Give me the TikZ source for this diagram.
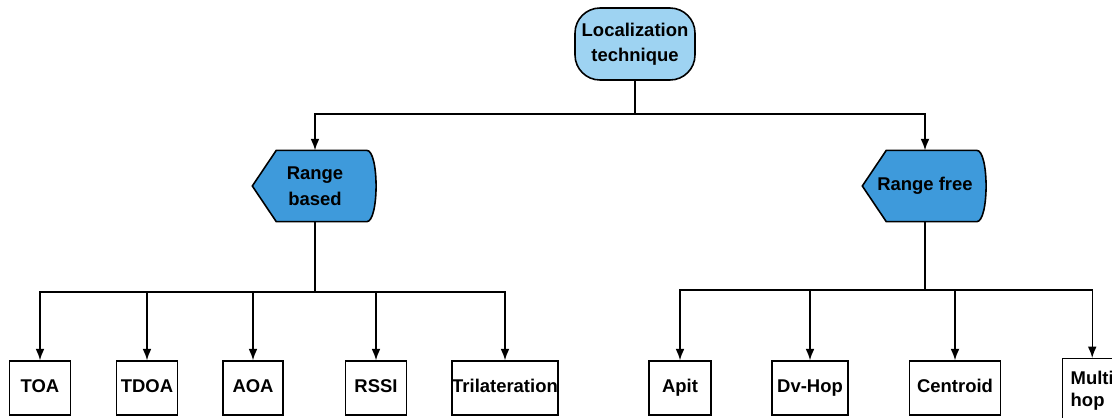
\documentclass[tikz,border=0pt]{standalone}
\usepackage{fontspec}
\setmainfont{Liberation Sans}
\usepackage{tikz}
\usetikzlibrary{shapes,arrows,positioning,calc,backgrounds}
\usetikzlibrary{arrows.meta}
\tikzset{>={Latex[width=5pt,length=6.5pt]}}
\definecolor{rootblue}{RGB}{158,211,242}
\definecolor{rangeblue}{RGB}{62,154,219}
\newcommand{\dispshape}[1]{%
  \filldraw[fill=rangeblue, line width=0.9pt] (#1.west) -- ([xshift=0.48cm]#1.north west) -- ([xshift=-0.22cm]#1.north east)
    .. controls ([xshift=0.03cm]#1.north east) and ([xshift=0.03cm]#1.south east) .. ([xshift=-0.22cm]#1.south east)
    -- ([xshift=0.48cm]#1.south west) -- cycle;}

\begin{document}
\begin{tikzpicture}[x=0.02cm, y=-0.02cm, line width=0.8pt,
    every node/.style={font=\bfseries\fontsize{10.5}{14.5}\selectfont, align=center},
    rootbox/.style={draw, rectangle, rounded corners=0.5cm, fill=rootblue, line width=0.9pt, minimum width=2.4cm, minimum height=1.44cm, inner sep=1pt},
    rangebox/.style={minimum width=2.48cm, minimum height=1.4cm},
    framebox/.style={draw, rectangle, inner xsep=2pt},
    leafbox/.style={framebox, minimum height=1.08cm, text height=7.6pt, text depth=2.2pt}]
    \useasboundingbox (0,0) rectangle (1112,417);
    \clip (0,0) rectangle (1112,417);

    \node[rootbox] (loc) at (635,44) {Localization\\technique};
    \node[rangebox] (based) at (315,186) {Range\\based};
    \node[rangebox] (free) at (925,186) {Range free};
    \begin{scope}[on background layer]
        \dispshape{based}
        \dispshape{free}
    \end{scope}

    \node[leafbox, minimum width=1.22cm] (toa) at (40,388) {TOA};
    \node[leafbox, minimum width=1.22cm] (tdoa) at (147,388) {TDOA};
    \node[leafbox, minimum width=1.2cm] (aoa) at (253,388) {AOA};
    \node[leafbox, minimum width=1.22cm] (rssi) at (376,388) {RSSI};
    \node[leafbox, minimum width=2.12cm, inner xsep=0pt] (tri) at (505,388) {Trilateration};
    \node[leafbox, minimum width=1.24cm] (apit) at (680,388) {Apit};
    \node[leafbox, minimum width=1.52cm] (dvhop) at (810,388) {Dv-Hop};
    \node[leafbox, minimum width=1.82cm] (cent) at (955,388) {Centroid};
    \node[framebox, anchor=north west, align=left, minimum height=1.3cm, inner xsep=0.16cm,
          font=\bfseries\fontsize{10.5}{12.5}\selectfont] (multi) at (1062,358) {Multi\\hop};

    \coordinate (top split) at (635,114);
    \coordinate (left split) at (315,292);
    \coordinate (right split) at (925,290);

    \draw (loc.south) -- (top split);
    \draw[->] (top split) -| (based.north);
    \draw[->] (top split) -| (free.north);
    \draw (based.south) -- (left split);
    \foreach \n in {toa,tdoa,aoa,rssi,tri}
        \draw[->] (left split) -| (\n.north);
    \draw (free.south) -- (right split);
    \foreach \n in {apit,dvhop,cent,multi}
        \draw[->] (right split) -| (\n.north);
\end{tikzpicture}
\end{document}
